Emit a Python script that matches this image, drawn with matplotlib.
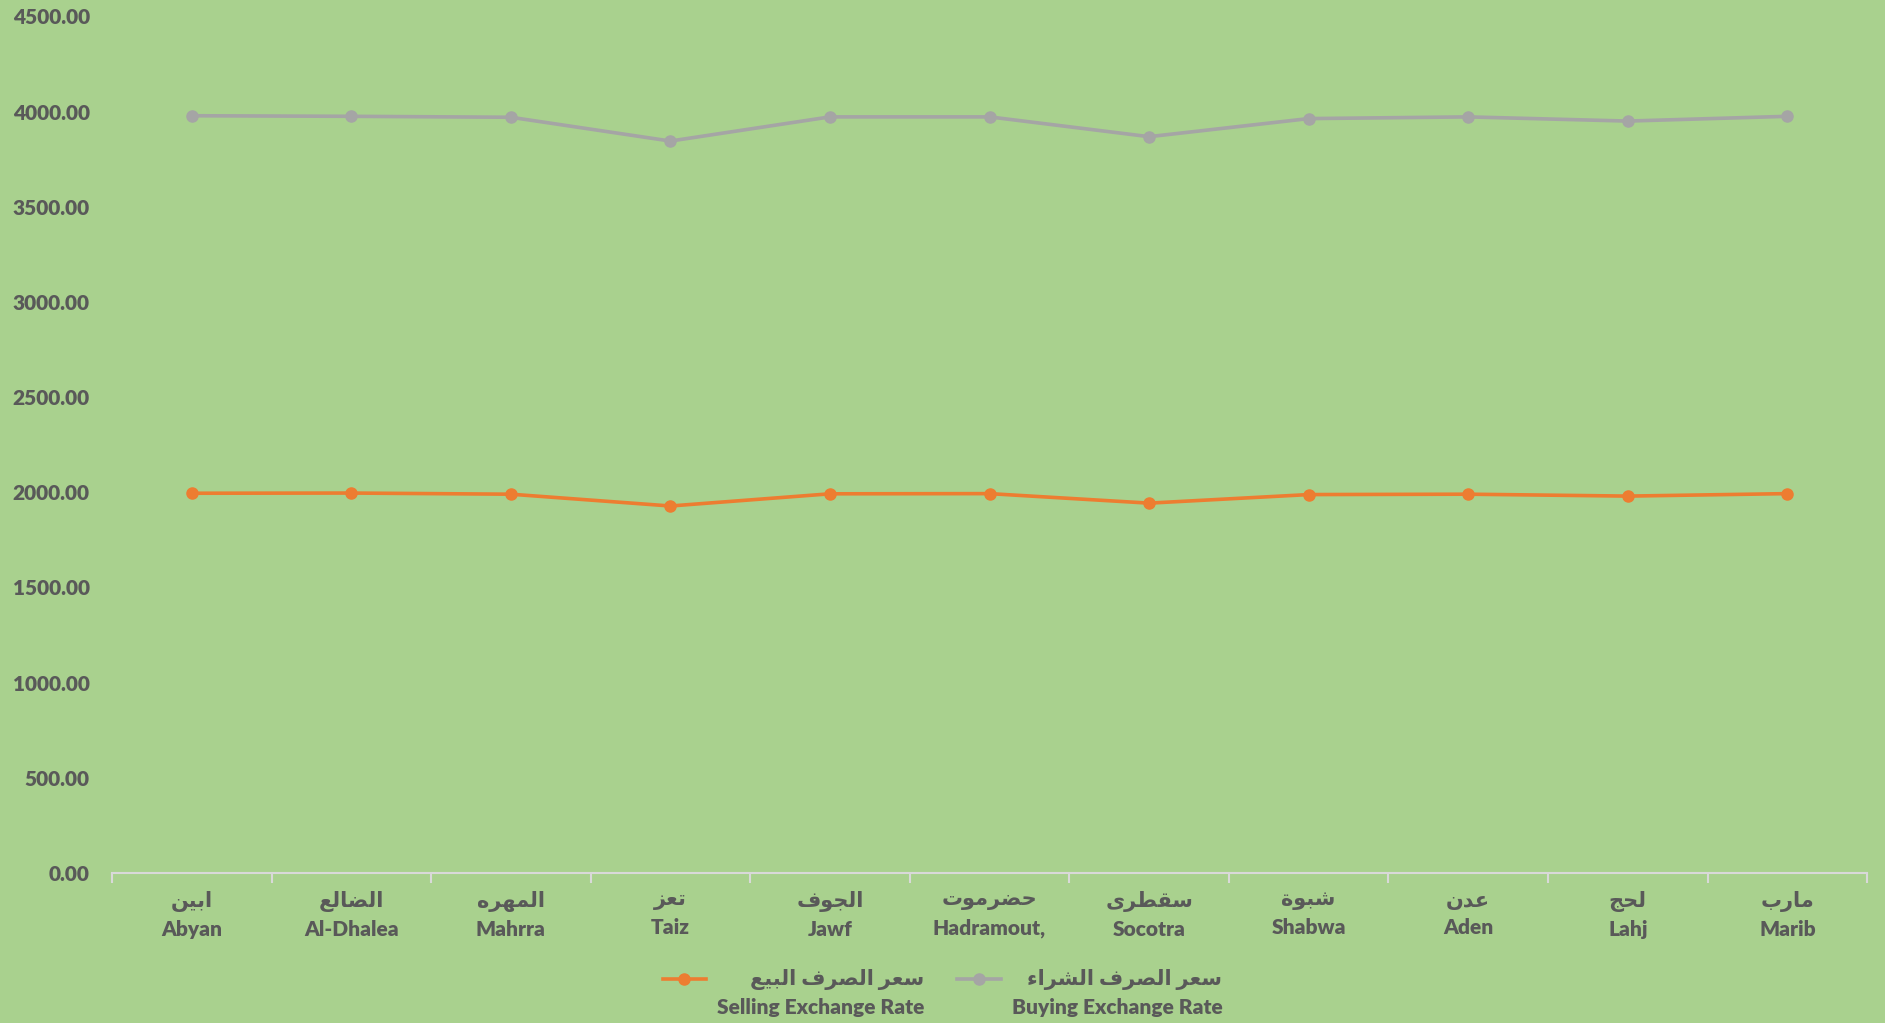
import matplotlib
matplotlib.use('Agg')
import matplotlib.pyplot as plt
from matplotlib.ticker import FuncFormatter, FixedLocator
from matplotlib.legend_handler import HandlerLine2D

# governorates (arabic / english) and exchange rates
gov_ar = ['ابين', 'الضالع', 'المهره', 'تعز', 'الجوف', 'حضرموت', 'سقطرى', 'شبوة', 'عدن', 'لحج', 'مارب']
gov_en = ['Abyan', 'Al-Dhalea', 'Mahrra', 'Taiz', 'Jawf', 'Hadramout,', 'Socotra', 'Shabwa', 'Aden', 'Lahj', 'Marib']
buying = [3978, 3975, 3970, 3845, 3972, 3972, 3868, 3963, 3972, 3950, 3975]
selling = [1995, 1996, 1990, 1928, 1992, 1993, 1943, 1988, 1990, 1980, 1993]
sell_ar = 'سعر الصرف البيع'
sell_en = 'Selling Exchange Rate'
buy_ar = 'سعر الصرف الشراء'
buy_en = 'Buying Exchange Rate'

# matplotlib does not shape arabic -> map letters to presentation forms and reverse
# letter: (isolated code, joins on both sides?)
FORMS = {
    'ء': (0xFE80, None), 'ا': (0xFE8D, False), 'ب': (0xFE8F, True), 'ة': (0xFE93, False),
    'ت': (0xFE95, True), 'ج': (0xFE9D, True), 'ح': (0xFEA1, True), 'د': (0xFEA9, False),
    'ر': (0xFEAD, False), 'ز': (0xFEAF, False), 'س': (0xFEB1, True), 'ش': (0xFEB5, True),
    'ص': (0xFEB9, True), 'ض': (0xFEBD, True), 'ط': (0xFEC1, True), 'ع': (0xFEC9, True),
    'ف': (0xFED1, True), 'ق': (0xFED5, True), 'ل': (0xFEDD, True), 'م': (0xFEE1, True),
    'ن': (0xFEE5, True), 'ه': (0xFEE9, True), 'و': (0xFEED, False), 'ى': (0xFEEF, False),
    'ي': (0xFEF1, True),
}


def shape(s):
    out = []
    for i, c in enumerate(s):
        if c not in FORMS:
            out.append(c)
            continue
        code, dual = FORMS[c]
        if dual is None:                      # hamza, never joins
            out.append(chr(code))
            continue
        prev = s[i - 1] if i > 0 else ''
        nxt = s[i + 1] if i + 1 < len(s) else ''
        j_prev = prev in FORMS and FORMS[prev][1] is True
        j_next = dual and nxt in FORMS and FORMS[nxt][1] is not None
        if j_prev and j_next:
            code += 3
        elif j_next:
            code += 2
        elif j_prev:
            code += 1
        out.append(chr(code))
    return ''.join(out[::-1])


# legend marker sits next to the first (arabic) line, not in the middle
class UpperLine(HandlerLine2D):
    def create_artists(self, legend, orig_handle, xdescent, ydescent, width, height, fontsize, trans):
        arts = super().create_artists(legend, orig_handle, xdescent, ydescent, width, height, fontsize, trans)
        for a in arts:
            a.set_ydata([y + 0.72 * fontsize for y in a.get_ydata()])
        return arts


bg = '#A9D18E'
txt = '#595959'
fam = ['Lato', 'DejaVu Sans']
plt.rcParams['font.family'] = fam
plt.rcParams['font.weight'] = 'heavy'

fig = plt.figure(figsize=(18.85, 10.23), dpi=100, facecolor=bg)
ax = fig.add_axes([0.0594, 0.1466, 0.9311, 0.8374])
ax.set_facecolor(bg)

x = list(range(len(gov_en)))
l_sell, = ax.plot(x, selling, color='#ED7D31', lw=2.6, marker='o', ms=8)
l_buy, = ax.plot(x, buying, color='#A5A5A5', lw=2.6, marker='o', ms=8)

ax.set_xlim(-0.5, len(gov_en) - 0.5)
ax.set_ylim(0, 4500)
ax.set_yticks(range(0, 4501, 500))
ax.yaxis.set_major_formatter(FuncFormatter(lambda v, p: '%.2f' % v))
ax.tick_params(axis='y', length=0, pad=16, labelsize=15, labelcolor=txt)

# category labels at centres, tick marks at the boundaries
ax.set_xticks(x)
ax.set_xticklabels([shape(a) + '\n' + e for a, e in zip(gov_ar, gov_en)], linespacing=1.5)
ax.tick_params(axis='x', which='major', length=0, pad=13, labelsize=15, labelcolor=txt)
ax.xaxis.set_minor_locator(FixedLocator([i - 0.5 for i in range(len(gov_en) + 1)]))
ax.tick_params(axis='x', which='minor', length=7, width=1.5, color='#D9D9D9')

for s in ['left', 'top', 'right']:
    ax.spines[s].set_visible(False)
ax.spines['bottom'].set_color('#D9D9D9')
ax.spines['bottom'].set_linewidth(1.5)

leg = fig.legend([l_sell, l_buy],
                 [shape(sell_ar) + '\n' + sell_en, shape(buy_ar) + '\n' + buy_en],
                 handler_map={l_sell: UpperLine(), l_buy: UpperLine()},
                 loc='lower center', bbox_to_anchor=(0.5, -0.012), ncol=2, frameon=False,
                 fontsize=15, handlelength=2.1, handletextpad=0.5, columnspacing=1.6)
for t in leg.get_texts():
    t.set_color(txt)
    t.set_multialignment('right')
    t.set_linespacing(1.45)

fig.savefig('out.png', dpi=100, facecolor=bg)
